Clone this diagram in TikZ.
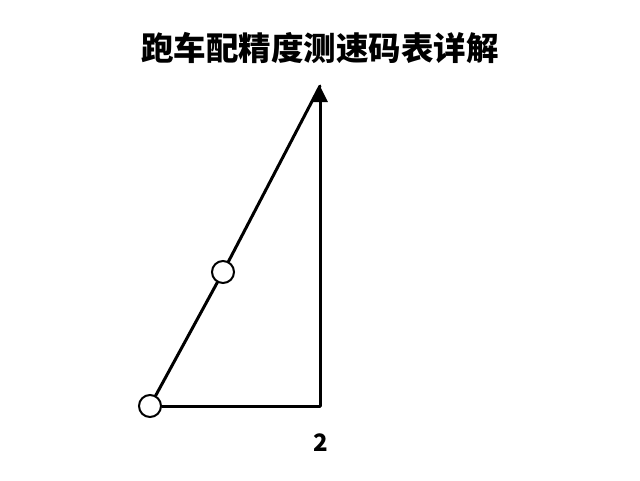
\documentclass[tikz,border=0pt]{standalone}
\usepackage{fontspec}
\newfontfamily\cjk{Noto Sans CJK SC}[BoldFont={Noto Sans CJK SC Black}]
\usetikzlibrary{arrows.meta}

\begin{document}
\begin{tikzpicture}[x=1pt, y=-1pt,
		leg/.style={line width=3pt, line cap=round},
		joint/.style={circle, draw, line width=2pt, fill=white, minimum size=22pt, inner sep=0pt}]
			%%%%% START %%%%%
			\useasboundingbox[fill=white] (0, 0) rectangle (640, 480);
			
			\node[font=\cjk\bfseries\fontsize{32.5}{32.5}\selectfont] (title) at (320, 48) {跑车配精度测速码表详解};
			
			\coordinate (apex) at (320, 86);
			\coordinate (corner) at (320, 406);
			\node[joint] (base) at (150, 406) {};
			\node[joint] (mid) at (223, 272) {};
			
			\draw[leg] (base) -- (mid);
			\draw[leg] (mid) -- (apex);
			\draw[leg] (base) -- (corner);
			\draw[leg, -{Triangle[length=16pt, width=15pt]}] (corner) -- (apex);
			
			\node[font=\cjk\bfseries\fontsize{24}{24}\selectfont] (len) at (321, 443) {2};
			%%%%% END %%%%%
\end{tikzpicture}
\end{document}
